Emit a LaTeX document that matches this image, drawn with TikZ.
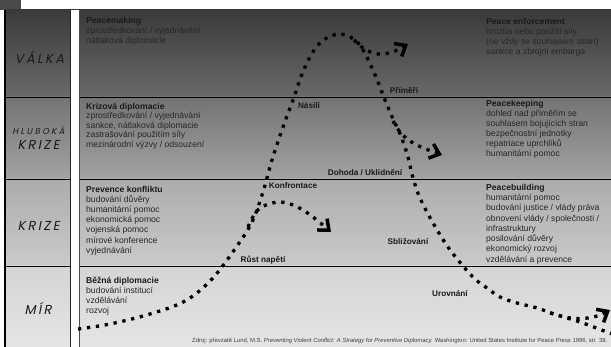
\documentclass[tikz,border=0pt]{standalone}
\usepackage{fontspec}
\usepackage{graphicx}
\setmainfont{Liberation Sans}
\newfontfamily\bandfont{Poppins}[FakeSlant=0.2,LetterSpace=18]
\newfontfamily\bandfontwide{Poppins}[FakeSlant=0.2,LetterSpace=28]
\usetikzlibrary{arrows.meta}
\definecolor{vTop}{HTML}{3A3A3A}
\definecolor{vBot}{HTML}{6A6A6A}
\definecolor{hTop}{HTML}{737373}
\definecolor{hBot}{HTML}{A3A3A3}
\definecolor{kTop}{HTML}{ACACAC}
\definecolor{kBot}{HTML}{CACACA}
\definecolor{mTop}{HTML}{D4D4D4}
\definecolor{mBot}{HTML}{E5E5E5}
\definecolor{bodycol}{HTML}{262626}
\definecolor{titlecol}{HTML}{1A1A1A}
\definecolor{cornercol}{HTML}{4A4A4A}
\newcommand{\fs}{\rule{0pt}{8pt}}
\newcommand{\ttl}[1]{\textcolor{titlecol}{\textbf{#1}}}
\tikzset{
  infoblock/.style={anchor=north west, inner sep=0pt, align=left, text=bodycol, font=\fontsize{8.6}{#1}\selectfont},
  curvelbl/.style={inner sep=0pt, text=titlecol, font=\fontsize{8.2}{9}\selectfont\bfseries},
  bandlbl/.style={inner sep=0pt, text=titlecol},
  dotline/.style={line width=3.3pt, dash pattern=on 3.3pt off 5.7pt, black, line cap=butt},
  barb/.style={-{Straight Barb[length=9pt,width=15pt,line width=3.5pt]}},
  bandline/.style={line width=0.8pt, black}
}
\begin{document}
\begin{tikzpicture}[x=1pt,y=-1pt]
\useasboundingbox (0,0) rectangle (611,347);
\fill[white] (0,0) rectangle (611,347);
\fill[cornercol] (0,0) rectangle (21,10);
% bands
\shade[top color=vTop, bottom color=vBot] (5,10) rectangle (611,97);
\shade[top color=hTop, bottom color=hBot] (5,97) rectangle (611,179);
\shade[top color=kTop, bottom color=kBot] (5,179) rectangle (611,266);
\shade[top color=mTop, bottom color=mBot] (5,266) rectangle (611,347);
\draw[bandline] (5,97) -- (611,97);
\draw[bandline] (5,179) -- (611,179);
\draw[bandline] (5,266) -- (611,266);
% left border and white strip
\draw[line width=2pt, black] (5,10) -- (5,347);
\fill[white] (70,10) rectangle (79.5,347);
\draw[line width=0.8pt, black!85] (70,10) -- (70,347);
\draw[line width=0.8pt, black!70] (79.5,10) -- (79.5,347);
% band labels
\node[bandlbl, font=\bandfont\fontsize{13}{13}\selectfont] (valka) at (39.5,57) {VÁLKA};
\node[bandlbl, font=\bandfontwide\fontsize{8.5}{9}\selectfont] (hluboka) at (38.5,131) {HLUBOKÁ};
\node[bandlbl, font=\bandfont\fontsize{13}{13}\selectfont] (hkrize) at (38.5,145) {KRIZE};
\node[bandlbl, font=\bandfont\fontsize{13}{13}\selectfont] (krize) at (38.5,226) {KRIZE};
\node[bandlbl, font=\bandfont\fontsize{13}{13}\selectfont] (mir) at (38,308) {MÍR};
% text blocks
\node[infoblock=10] (pm) at (86,15) {\fs\ttl{Peacemaking}\\zprostředkování / vyjednávání\\nátlaková diplomacie};
\node[infoblock=9.5] (kd) at (86,101) {\fs\ttl{Krizová diplomacie}\\zprostředkování / vyjednávání\\sankce, nátlaková diplomacie\\zastrašování použitím síly\\mezinárodní výzvy / odsouzení};
\node[infoblock=10.2] (pk) at (86,184) {\fs\ttl{Prevence konfliktu}\\budování důvěry\\humanitární pomoc\\ekonomická pomoc\\vojenská pomoc\\mírové konference\\vyjednávání};
\node[infoblock=10.2] (bd) at (86,275) {\fs\ttl{Běžná diplomacie}\\budování institucí\\vzdělávání\\rozvoj};
\node[infoblock=10] (pe) at (486,16) {\fs\ttl{Peace enforcement}\\hrozba nebo použití síly\\(ne vždy se souhlasem stran)\\sankce a zbrojní embarga};
\node[infoblock=10] (pkp) at (486,98) {\fs\ttl{Peacekeeping}\\dohled nad příměřím se\\souhlasem bojujících stran\\bezpečnostní jednotky\\repatriace uprchlíků\\humanitární pomoc};
\node[infoblock=10.3] (pb) at (486,182) {\fs\ttl{Peacebuilding}\\humanitární pomoc\\budování justice / vlády práva\\obnovení vlády / společnosti /\\infrastruktury\\posilování důvěry\\ekonomický rozvoj\\vzdělávání a prevence};
% curve labels
\node[curvelbl] (primeri) at (404,90) {Příměří};
\node[curvelbl] (nasili) at (309,106) {Násilí};
\node[curvelbl] (dohoda) at (365,173) {Dohoda / Uklidnění};
\node[curvelbl] (konfr) at (293,186) {Konfrontace};
\node[curvelbl] (rust) at (263,260) {Růst napětí};
\node[curvelbl] (sbliz) at (408,241) {Sbližování};
\node[curvelbl] (urov) at (450,294) {Urovnání};
% source
\node[anchor=west, inner sep=0pt, text=black!75] (src) at (192,341) {\resizebox{415pt}{!}{\fontsize{6}{7}\selectfont Zdroj: převzatě Lund, M.S. \textit{Preventing Violent Conflict: A Strategy for Preventive Diplomacy.} Washington: United States Institute for Peace Press 1996, str. 38.}};
% curves
\begin{scope}
\clip (0,0) rectangle (611,347);
\draw[dotline] plot[smooth, tension=0.6] coordinates {(78,329) (110,324) (150,314) (185,301) (212,279) (237,246) (252,222) (263,192) (272,160) (283,127) (293,100) (305,67) (320,43) (340,34) (358,43) (372,68) (385,100) (393,119) (401,136) (408,157) (413,178) (420,198) (433,223) (448,247) (463,266) (475,279) (487,288) (500,297) (517,303) (537,308) (557,315) (580,322) (607,332) (625,338)};
\draw[dotline, barb] plot[smooth, tension=0.6] coordinates {(248,227) (256,212) (266,205) (280,202) (293,205) (306,212) (318,221) (331,232)};
\draw[dotline, barb] plot[smooth, tension=0.6] coordinates {(354,40) (363,48) (373,53) (384,54) (395,51) (408,44)};
\draw[dotline, barb] plot[smooth, tension=0.6] coordinates {(393,121) (400,132) (410,141) (421,147) (431,151) (442,155)};
\draw[dotline, barb] plot[smooth, tension=0.6] coordinates {(550,313) (570,318) (588,318) (600,315) (610,310)};
\end{scope}
\end{tikzpicture}
\end{document}
